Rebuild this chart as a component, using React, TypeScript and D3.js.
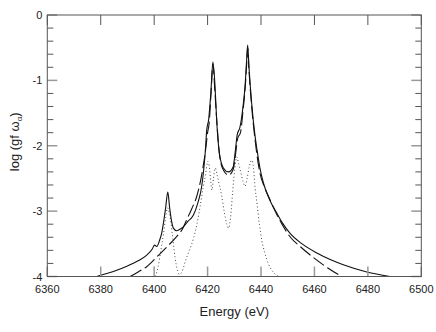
import React from "react";
import * as d3 from "d3";

// solid: total profile
const solidE = [6378.5, 6380, 6385, 6390, 6394, 6397, 6399.3, 6400.1, 6401, 6402, 6402.8, 6403.6, 6404.3, 6405.1, 6405.8, 6406.5, 6407.2, 6408.4, 6409.5, 6410.9, 6412.8, 6414.7, 6416.3, 6417.8, 6419.1, 6419.7, 6420.4, 6421.2, 6422.0, 6422.8, 6423.4, 6424.4, 6425.9, 6427.8, 6429.6, 6430.3, 6431.1, 6432.1, 6433.4, 6434.0, 6434.6, 6435.0, 6435.5, 6436.5, 6437.8, 6438.5, 6439.6, 6440.9, 6443.4, 6445.9, 6448, 6450.9, 6455, 6460.9, 6465.9, 6470.8, 6479.6, 6488.3];
const solidV = [-4.0, -3.98, -3.92, -3.84, -3.76, -3.68, -3.58, -3.52, -3.54, -3.45, -3.34, -3.15, -2.95, -2.71, -2.95, -3.15, -3.26, -3.30, -3.28, -3.24, -3.15, -3.06, -2.88, -2.62, -2.11, -1.75, -1.6, -1.2, -0.72, -1.1, -1.61, -2.11, -2.34, -2.40, -2.32, -2.11, -1.83, -1.72, -1.35, -1.1, -0.7, -0.46, -0.8, -1.35, -1.86, -2.06, -2.34, -2.57, -2.84, -3.03, -3.18, -3.34, -3.49, -3.64, -3.74, -3.82, -3.93, -4.0];

// dashed
const dashE = [6391, 6394, 6397.2, 6401, 6404.7, 6408.4, 6410.5, 6412.2, 6414, 6415.9, 6417.3, 6418.4, 6419.3, 6420, 6420.6, 6421.3, 6422.0, 6422.7, 6423.5, 6424.5, 6426, 6427.9, 6429.6, 6430.4, 6431.3, 6432.3, 6433.3, 6434.1, 6434.7, 6435.0, 6435.5, 6436.5, 6437.8, 6439.6, 6441.5, 6443.4, 6445.9, 6448.4, 6451, 6454.6, 6460.9, 6465, 6470.2];
const dashV = [-4.0, -3.93, -3.85, -3.7, -3.55, -3.39, -3.28, -3.13, -2.97, -2.78, -2.55, -2.3, -2.05, -1.8, -1.65, -1.2, -0.75, -1.15, -1.65, -2.15, -2.38, -2.45, -2.36, -2.15, -1.88, -1.8, -1.45, -1.1, -0.7, -0.5, -0.85, -1.4, -1.92, -2.42, -2.65, -2.83, -3.05, -3.24, -3.4, -3.54, -3.75, -3.87, -4.0];

// dotted
const dotE = [6400.4, 6401.5, 6402.5, 6403.5, 6404.3, 6405.0, 6405.8, 6406.8, 6407.8, 6408.8, 6409.5, 6410.5, 6411.8, 6413.2, 6414.7, 6416.0, 6417.2, 6418.3, 6419.2, 6420.1, 6420.6, 6421.2, 6421.6, 6422.2, 6422.9, 6423.6, 6424.4, 6425.2, 6426.2, 6427.2, 6427.9, 6428.6, 6429.4, 6430.2, 6430.9, 6431.6, 6432.4, 6433.3, 6434.0, 6434.8, 6435.6, 6436.5, 6437.2, 6437.8, 6438.4, 6439.4, 6440.3, 6441.5, 6442.7, 6444.3, 6445.9, 6446.5];
const dotV = [-4.0, -3.85, -3.6, -3.35, -3.1, -2.95, -3.05, -3.35, -3.7, -3.92, -3.97, -3.92, -3.75, -3.6, -3.42, -3.2, -2.93, -2.65, -2.45, -2.24, -2.3, -2.55, -2.68, -2.5, -2.34, -2.45, -2.6, -2.75, -3.0, -3.2, -3.26, -3.1, -2.7, -2.35, -2.17, -2.27, -2.4, -2.55, -2.62, -2.5, -2.32, -2.22, -2.35, -2.65, -2.85, -3.2, -3.45, -3.65, -3.8, -3.92, -3.98, -4.0];

const xTickValues = [6360, 6380, 6400, 6420, 6440, 6460, 6480, 6500];
const yTickValues = [0, -1, -2, -3, -4];

const width = 436, height = 332;
const left = 47.3, right = 421.3, top = 15, bottom = 276.5;
const font = "'Liberation Sans', Arial, Helvetica, sans-serif";

const App = () => {
  const x = d3.scaleLinear().domain([6360, 6500]).range([left, right]);
  const y = d3.scaleLinear().domain([-4, 0]).range([bottom, top]);

  const line = d3.line<[number, number]>()
    .x(d => x(d[0]))
    .y(d => y(d[1]))
    .curve(d3.curveMonotoneX);

  const pts = (es: number[], vs: number[]) => es.map((e, i) => [e, vs[i]] as [number, number]);

  const minorY = d3.range(-4, 0.001, 0.2).filter(v => Math.abs(v - Math.round(v)) > 0.01);

  return (
    <svg width={width} height={height} style={{ position: "absolute", left: 0, top: 0, background: "#fff" }}>
      <defs>
        <clipPath id="plot">
          <rect x={left} y={top} width={right - left} height={bottom - top} />
        </clipPath>
      </defs>

      <g clipPath="url(#plot)" fill="none" strokeLinejoin="round">
        <path d={line(pts(dotE, dotV)) || ""} stroke="#444" strokeWidth={1} strokeDasharray="1,2.5" />
        <path d={line(pts(dashE, dashV)) || ""} stroke="#111" strokeWidth={1.1} strokeDasharray="13,4" />
        <path d={line(pts(solidE, solidV)) || ""} stroke="#111" strokeWidth={1.1} />
      </g>

      {/* minor y ticks */}
      {minorY.map(v => (
        <g key={"m" + v}>
          <line x1={left} x2={left + 6} y1={y(v)} y2={y(v)} stroke="#555" />
          <line x1={right} x2={right - 6} y1={y(v)} y2={y(v)} stroke="#555" />
        </g>
      ))}
      {/* major y ticks */}
      {yTickValues.map(v => (
        <g key={"y" + v}>
          <line x1={left} x2={left + 10} y1={y(v)} y2={y(v)} stroke="#999" strokeWidth={1.5} />
          <line x1={right} x2={right - 10} y1={y(v)} y2={y(v)} stroke="#999" strokeWidth={1.5} />
          <text x={left - 5} y={y(v) + 4} textAnchor="end" fontSize={11} fontFamily={font} fill="#222">{v}</text>
        </g>
      ))}
      {/* x ticks */}
      {xTickValues.map(v => (
        <g key={"x" + v}>
          <line x1={x(v)} x2={x(v)} y1={bottom} y2={bottom - 10} stroke="#999" strokeWidth={1.5} />
          <line x1={x(v)} x2={x(v)} y1={top} y2={top + 10} stroke="#555" />
          <text x={x(v)} y={bottom + 16} textAnchor="middle" fontSize={11} fontFamily={font} fill="#222">{v}</text>
        </g>
      ))}

      <rect x={left} y={top} width={right - left} height={bottom - top} fill="none" stroke="#555" />

      <text x={(left + right) / 2} y={316} textAnchor="middle" fontSize={13} fontFamily={font} fill="#222">Energy (eV)</text>
      <text transform={`translate(19,${(top + bottom) / 2 - 4}) rotate(-90)`} textAnchor="middle" fontSize={13} fontFamily={font} fill="#222">
        log (gf ω<tspan fontSize={8} dy={3}>α</tspan><tspan dy={-3}>)</tspan>
      </text>
    </svg>
  );
};

export default App;
